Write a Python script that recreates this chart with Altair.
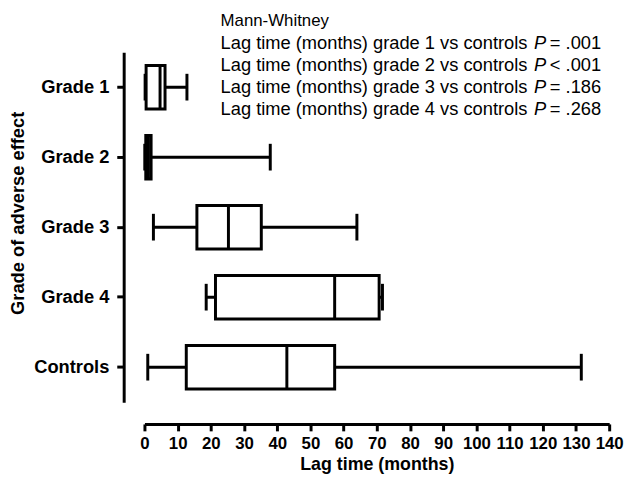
import altair as alt
import pandas as pd

# ---- data ----
categories = ["Grade 1", "Grade 2", "Grade 3", "Grade 4", "Controls"]
min_vals = [0.2, 0.1, 2.7, 18.6, 1.0]
q1_vals = [0.5, 0.4, 15.8, 21.4, 12.6]
median_vals = [4.7, 1.2, 25.3, 57.3, 42.9]
q3_vals = [6.2, 2.0, 35.2, 70.7, 57.3]
max_vals = [12.8, 37.9, 64.0, 71.7, 131.6]
x_ticks = list(range(0, 141, 10))

test_title = "Mann-Whitney"
comparison_groups = ["grade 1", "grade 2", "grade 3", "grade 4"]
p_ops = ["=", "<", "=", "="]
p_values = [".001", ".001", ".186", ".268"]

x_title = "Lag time (months)"
y_title = "Grade of adverse effect"

df = pd.DataFrame({
    "group": categories,
    "min": min_vals,
    "q1": q1_vals,
    "median": median_vals,
    "q3": q3_vals,
    "max": max_vals,
})

FONT = "Liberation Sans"

x_scale = alt.Scale(domain=[0, 140], nice=False, zero=True)
x_axis = alt.Axis(
    values=x_ticks, title=x_title, offset=22, grid=False,
    domainWidth=3, domainColor="black", tickWidth=3, tickSize=7, tickColor="black",
    labelFont=FONT, labelFontSize=17, labelFontWeight="bold", labelColor="black",
    labelPadding=5, labelFlush=False, labelOverlap=False,
    titleFont=FONT, titleFontSize=18, titleFontWeight="bold", titleColor="black",
    titlePadding=4,
)
y_scale = alt.Scale(paddingInner=0, paddingOuter=0)
y_axis = alt.Axis(
    title=None, offset=21, grid=False,
    domainWidth=3, domainColor="black", tickWidth=3, tickSize=7, tickColor="black",
    labelFont=FONT, labelFontSize=18.5, labelFontWeight="bold", labelColor="black",
    labelPadding=8,
)

def Y():
    return alt.Y("group:N", sort=categories, scale=y_scale, axis=y_axis)

def X(field):
    return alt.X(field, type="quantitative", scale=x_scale, axis=x_axis)

base = alt.Chart(df)

whisker = base.mark_rule(color="black", strokeWidth=3).encode(
    x=X("min"), x2="max:Q", y=Y()
)
cap_min = base.mark_tick(color="black", thickness=3, size=27, opacity=1).encode(
    x=X("min"), y=Y()
)
cap_max = base.mark_tick(color="black", thickness=3, size=27, opacity=1).encode(
    x=X("max"), y=Y()
)
box = base.mark_bar(fill="white", stroke="black", strokeWidth=3, height=44, opacity=1).encode(
    x=X("q1"), x2="q3:Q", y=Y()
)
median = base.mark_tick(color="black", thickness=3, size=46, opacity=1).encode(
    x=X("median"), y=Y()
)

texts = []
def text_layer(t, x, y, size=18.5, style="normal", weight="normal", angle=None,
               align="left", baseline="alphabetic"):
    kw = dict(font=FONT, fontSize=size, fontStyle=style, fontWeight=weight,
              color="black", align=align, baseline=baseline)
    if angle is not None:
        kw["angle"] = angle
    return alt.Chart(pd.DataFrame({"t": [t]})).mark_text(**kw).encode(
        x=alt.value(x), y=alt.value(y), text="t:N"
    )

texts.append(text_layer(test_title, 77, -26, size=17))
line_y = [-3.5, 19, 41.5, 64]
for g, op, p, yy in zip(comparison_groups, p_ops, p_values, line_y):
    texts.append(text_layer(f"Lag time (months) {g} vs controls", 77, yy))
    texts.append(text_layer("P", 394, yy, style="italic"))
    texts.append(text_layer(f"{op} {p}", 410, yy))

texts.append(text_layer(y_title, -128, 163, size=18.5, weight="bold", angle=270,
                        align="center", baseline="middle"))

chart = alt.layer(whisker, cap_min, cap_max, box, median, *texts).properties(
    width=470,
    height=354,
    autosize=alt.AutoSizeParams(type="none"),
    padding={"left": 138, "top": 42, "right": 16, "bottom": 72},
    background="white",
).configure_view(stroke=None)

chart.save("out.html", embed_options={"renderer": "svg", "actions": False})
